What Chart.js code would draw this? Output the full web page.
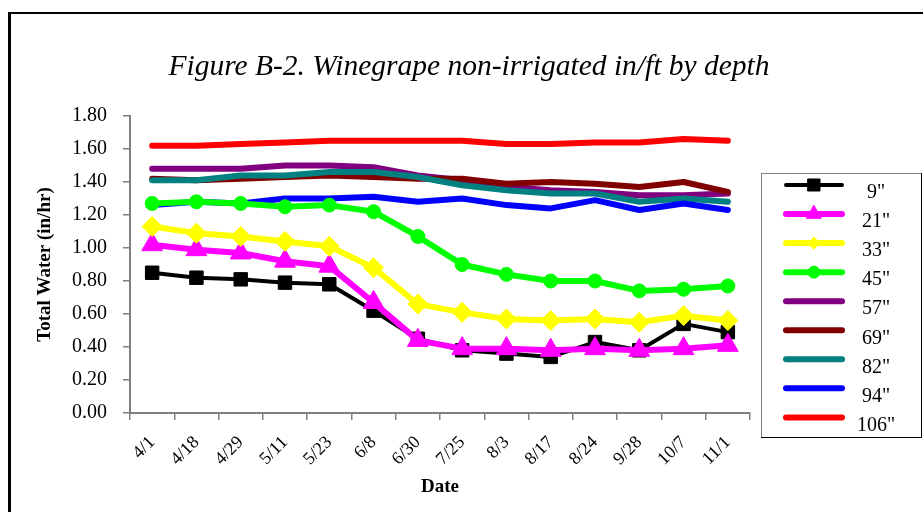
<!DOCTYPE html>
<html>
<head>
<meta charset="utf-8">
<title>Figure B-2</title>
<script src="https://cdn.jsdelivr.net/npm/chart.js@4.4.0/dist/chart.umd.min.js"></script>
<style>
  html, body { margin: 0; padding: 0; background: #fff; }
  #wrap { position: relative; width: 923px; height: 512px; overflow: hidden; }
</style>
</head>
<body>
<div id="wrap"><canvas id="chart" width="923" height="512"></canvas></div>
<script>
// dates of reading
const dates = ['4/1', '4/18', '4/29', '5/11', '5/23', '6/8', '6/30', '7/25', '8/3', '8/17', '8/24', '9/28', '10/7', '11/1'];

// in/ft by depth
const d9   = [0.85, 0.82, 0.81, 0.79, 0.78, 0.62, 0.45, 0.38, 0.36, 0.34, 0.43, 0.38, 0.54, 0.49];
const d21  = [1.02, 0.99, 0.97, 0.92, 0.89, 0.67, 0.44, 0.39, 0.39, 0.38, 0.39, 0.38, 0.39, 0.41];
const d33  = [1.13, 1.09, 1.07, 1.04, 1.01, 0.88, 0.66, 0.61, 0.57, 0.56, 0.57, 0.55, 0.59, 0.56];
const d45  = [1.27, 1.28, 1.27, 1.25, 1.26, 1.22, 1.07, 0.90, 0.84, 0.80, 0.80, 0.74, 0.75, 0.77];
const d57  = [1.48, 1.48, 1.48, 1.50, 1.50, 1.49, 1.44, 1.41, 1.37, 1.35, 1.34, 1.32, 1.32, 1.33];
const d69  = [1.42, 1.41, 1.42, 1.43, 1.44, 1.43, 1.42, 1.42, 1.39, 1.40, 1.39, 1.37, 1.40, 1.34];
const d82  = [1.41, 1.41, 1.44, 1.44, 1.46, 1.46, 1.43, 1.38, 1.35, 1.33, 1.33, 1.28, 1.30, 1.28];
const d94  = [1.26, 1.28, 1.27, 1.30, 1.30, 1.31, 1.28, 1.30, 1.26, 1.24, 1.29, 1.23, 1.27, 1.23];
const d106 = [1.62, 1.62, 1.63, 1.64, 1.65, 1.65, 1.65, 1.65, 1.63, 1.63, 1.64, 1.64, 1.66, 1.65];

const depthLabels = ['9"', '21"', '33"', '45"', '57"', '69"', '82"', '94"', '106"'];
const yTicks = [0, 0.2, 0.4, 0.6, 0.8, 1.0, 1.2, 1.4, 1.6, 1.8];

const SERIF = "'Liberation Serif', 'Times New Roman', serif";

function series(label, data, color, style, radius, width, order, legendR) {
  return {
    label, data,
    borderColor: color,
    backgroundColor: color,
    pointBackgroundColor: color,
    pointBorderColor: color,
    pointStyle: style || false,
    pointRadius: style ? radius : 0,
    pointHoverRadius: style ? radius : 0,
    pointBorderWidth: 1,
    borderWidth: width,
    borderJoinStyle: 'round',
    borderCapStyle: 'round',
    tension: 0,
    fill: false,
    order,
    legendR
  };
}

// frame, title and legend box
const decor = {
  id: 'decor',
  beforeDraw(chart) {
    const c = chart.ctx;
    c.save();
    c.fillStyle = '#fff';
    c.fillRect(0, 0, chart.width, chart.height);
    c.fillStyle = '#000';
    c.fillRect(8, 12, 3, chart.height);
    c.fillRect(8, 12, chart.width, 2);
    c.restore();
  },
  afterDraw(chart) {
    const c = chart.ctx;
    c.save();
    c.fillStyle = '#000';
    c.font = "italic 29.5px " + SERIF;
    c.textAlign = 'center';
    c.textBaseline = 'middle';
    c.fillText('Figure B-2. Winegrape non-irrigated in/ft by depth', 469, 67);

    // legend
    const bx = 761, by = 173, bw = 160, bh = 264;
    c.fillStyle = '#fff';
    c.fillRect(bx, by, bw, bh);
    c.strokeStyle = '#808080';
    c.lineWidth = 1;
    c.strokeRect(bx + 0.5, by + 0.5, bw, bh);
    c.strokeStyle = '#000';
    c.beginPath();
    c.moveTo(bx + bw + 0.5, by);
    c.lineTo(bx + bw + 0.5, by + bh + 0.5);
    c.lineTo(bx, by + bh + 0.5);
    c.stroke();

    chart.data.datasets.forEach((ds, i) => {
      const y = 185 + i * 29.05;
      c.strokeStyle = ds.borderColor;
      c.lineWidth = ds.borderWidth;
      c.lineCap = 'round';
      c.beginPath();
      c.moveTo(786, y);
      c.lineTo(842, y);
      c.stroke();
      if (ds.pointStyle) {
        c.lineWidth = 1;
        c.fillStyle = ds.borderColor;
        Chart.helpers.drawPoint(c, {
          pointStyle: ds.pointStyle, radius: ds.legendR, rotation: 0, borderWidth: 1
        }, 814, y);
      }
      c.fillStyle = '#000';
      c.font = "20px " + SERIF;
      c.textAlign = 'center';
      c.textBaseline = 'middle';
      c.fillText(ds.label, 876, y + 8);
    });
    c.restore();
  }
};

new Chart(document.getElementById('chart'), {
  type: 'line',
  data: {
    labels: dates,
    datasets: [
      series(depthLabels[0], d9,   '#000000', 'rect',    9.5, 4, 0,   8.5),
      series(depthLabels[1], d21,  '#FF00FF', 'triangle', 12, 6, -1,  8.5),
      series(depthLabels[2], d33,  '#FFFF00', 'rectRot', 10, 6, -2,  6),
      series(depthLabels[3], d45,  '#00FF00', 'circle',  7,  6, -10, 6),
      series(depthLabels[4], d57,  '#800080', null,      0,  6, -4,  0),
      series(depthLabels[5], d69,  '#800000', null,      0,  6, -5,  0),
      series(depthLabels[6], d82,  '#008080', null,      0,  6, -6,  0),
      series(depthLabels[7], d94,  '#0000FF', null,      0,  6, -7,  0),
      series(depthLabels[8], d106, '#FF0000', null,      0,  6, -8,  0)
    ]
  },
  options: {
    responsive: false,
    animation: false,
    devicePixelRatio: 1,
    layout: { padding: { left: 30, right: 173, top: 116, bottom: 0 } },
    plugins: {
      legend: { display: false },
      title: { display: false },
      tooltip: { enabled: false }
    },
    scales: {
      x: {
        type: 'category',
        offset: true,
        afterFit(s) { s.height = 512 - 413; },
        grid: { offset: true, drawOnChartArea: false, drawTicks: true, tickLength: 7, color: '#808080', lineWidth: 1.5 },
        border: { display: true, color: '#808080', width: 2 },
        ticks: {
          autoSkip: false, maxRotation: 45, minRotation: 45, padding: 12,
          color: '#000', font: { family: SERIF, size: 18 }
        },
        title: {
          display: true, text: 'Date', color: '#000',
          font: { family: SERIF, size: 19, weight: 'bold' },
          padding: { top: 4, bottom: 14 }
        }
      },
      y: {
        min: 0, max: 1.8,
        afterFit(s) { s.width = 100; },
        afterBuildTicks(s) { s.ticks = yTicks.map(v => ({ value: v })); },
        grid: { drawOnChartArea: false, drawTicks: true, tickLength: 7, color: '#808080', lineWidth: 1.5 },
        border: { display: true, color: '#808080', width: 2 },
        ticks: {
          padding: 16, color: '#000',
          font: { family: SERIF, size: 20 },
          callback: v => Number(v).toFixed(2)
        },
        title: {
          display: true, text: 'Total Water (in/hr)', color: '#000',
          font: { family: SERIF, size: 19, weight: 'bold' },
          padding: { top: 4, bottom: 4 }
        }
      }
    }
  },
  plugins: [decor]
});
</script>
</body>
</html>
